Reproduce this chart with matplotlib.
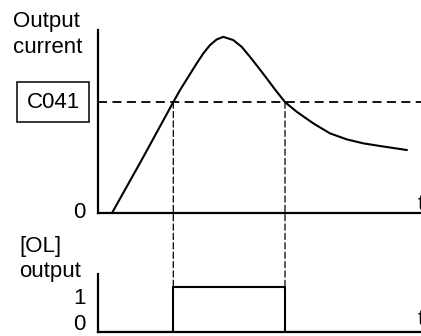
import matplotlib
matplotlib.use("Agg")
import matplotlib.pyplot as plt
from matplotlib.patches import ConnectionPatch

plt.rcParams["font.family"] = ["Liberation Sans", "DejaVu Sans"]

# output current (C041 level = 100), time in arbitrary units
time = [1.4, 4.5, 7.53, 8.2, 9.03, 9.87, 10.53, 11.2, 11.87, 12.53, 13.53,
        14.37, 15.2, 16.03, 16.87, 17.7, 18.7, 19.87, 21.53, 23.2, 24.87,
        26.53, 28.2, 30.87]
current = [0, 50, 100, 110.8, 122.8, 134.9, 143.9, 151.4, 156.5, 158.8, 155.9,
           149.8, 140.8, 131.3, 121.4, 111.4, 100, 91.3, 80.8, 71.8, 66.4,
           62.8, 60.4, 56.8]
c041 = 100
t_on, t_off = 7.53, 18.7
ol_time = [0, t_on, t_off, 32.3]
ol_state = [0, 1, 0, 0]

W, H = 421, 336
fig = plt.figure(figsize=(W / 100, H / 100), dpi=100)

ax = fig.add_axes([98 / W, (H - 213) / H, 323 / W, 183 / H])
ax2 = fig.add_axes([98 / W, (H - 332) / H, 323 / W, 58 / H])

for a in (ax, ax2):
    a.set_xlim(0, 32.3)
    a.spines["top"].set_visible(False)
    a.spines["right"].set_visible(False)
    a.spines["left"].set_linewidth(1.6)
    a.spines["bottom"].set_linewidth(1.6)
    a.set_xticks([])
    a.set_yticks([])
    a.patch.set_visible(False)

ax.set_ylim(0, 165)
ax2.set_ylim(0, 1.29)

ax.plot(time, current, color="black", lw=1.5, solid_joinstyle="round")
ax.axhline(c041, color="black", lw=1.3, ls=(0, (5, 3)), clip_on=False)

ax2.plot(ol_time, ol_state, color="black", lw=1.5, drawstyle="steps-post")

for t in (t_on, t_off):
    con = ConnectionPatch(xyA=(t, c041), coordsA=ax.transData,
                          xyB=(t, 0), coordsB=ax2.transData,
                          color="black", lw=0.9, ls=(0, (5, 2.5)))
    fig.add_artist(con)

fs = 16
# axis titles
fig.text(13 / W, (H - 27) / H, "Output", fontsize=fs, va="baseline")
fig.text(13 / W, (H - 53) / H, "current", fontsize=fs, va="baseline")
fig.text(19 / W, (H - 252) / H, "[OL]", fontsize=fs, va="baseline")
fig.text(19 / W, (H - 277) / H, "output", fontsize=fs, va="baseline")

# C041 box
ax.annotate("C041", xy=(0, c041), xycoords=("axes fraction", "data"),
            xytext=(-45, 0), textcoords="offset pixels",
            ha="center", va="center", fontsize=fs,
            bbox=dict(boxstyle="square,pad=0.42", fc="white", ec="black", lw=1.1))

# level labels
ax.annotate("0", xy=(0, 0), xycoords=("axes fraction", "data"),
            xytext=(-12, 0), textcoords="offset pixels",
            ha="right", va="center", fontsize=fs)
ax2.annotate("1", xy=(0, 1), xycoords=("axes fraction", "data"),
             xytext=(-12, -1), textcoords="offset pixels",
             ha="right", va="top", fontsize=fs)
ax2.annotate("0", xy=(0, 0), xycoords=("axes fraction", "data"),
             xytext=(-12, 2), textcoords="offset pixels",
             ha="right", va="baseline", fontsize=fs)

# time labels (cut by the figure edge, as in the original)
fig.text(418 / W, (H - 210) / H, "t", fontsize=fs, va="baseline")
fig.text(418 / W, (H - 325) / H, "t", fontsize=fs, va="baseline")

fig.savefig("out.png", dpi=100)
